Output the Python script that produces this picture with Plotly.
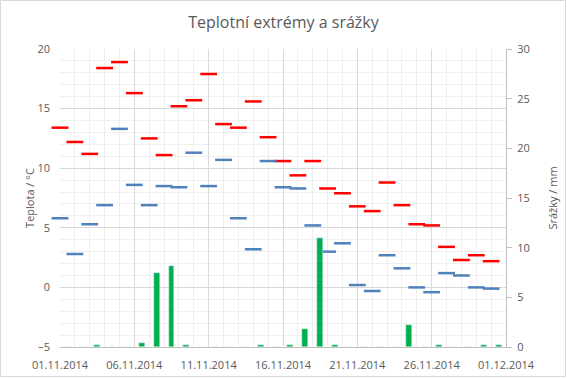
import plotly.graph_objects as go
import pandas as pd

dates = pd.date_range("2014-11-01", periods=30, freq="D")
t_max = [13.4, 12.2, 11.2, 18.4, 18.9, 16.3, 12.5, 11.1, 15.2, 15.7,
         17.9, 13.7, 13.4, 15.6, 12.6, 10.6, 9.4, 10.6, 8.3, 7.9,
         6.8, 6.4, 8.8, 6.9, 5.3, 5.2, 3.4, 2.3, 2.7, 2.2]
t_min = [5.8, 2.8, 5.3, 6.9, 13.3, 8.6, 6.9, 8.5, 8.4, 11.3,
         8.5, 10.7, 5.8, 3.2, 10.6, 8.4, 8.3, 5.2, 3.0, 3.7,
         0.2, -0.3, 2.7, 1.6, 0.0, -0.4, 1.2, 1.0, 0.0, -0.1]
precip = [0, 0, 0.2, 0, 0, 0.4, 7.5, 8.2, 0.2, 0,
          0, 0, 0, 0.2, 0, 0.2, 1.8, 11.0, 0.2, 0,
          0, 0, 0, 2.2, 0, 0.2, 0, 0, 0.2, 0.2]
tick_dates = pd.date_range("2014-11-01", "2014-12-01", freq="5D")
tick_text = [d.strftime("%d.%m.%Y") for d in tick_dates]

DAY = 86400000
grey = "#595959"
font = "Open Sans"
tfs = 11

fig = go.Figure()
fig.add_trace(go.Bar(x=dates, y=precip, yaxis="y2", marker_color="#00b050",
                     width=0.4 * DAY, offset=0.3 * DAY, name="Srážky"))
fig.add_trace(go.Scatter(x=dates, y=t_max, mode="markers", name="Max", cliponaxis=False,
                         marker=dict(symbol="line-ew", size=12,
                                     line=dict(color="#ff0000", width=2.5))))
fig.add_trace(go.Scatter(x=dates, y=t_min, mode="markers", name="Min", cliponaxis=False,
                         marker=dict(symbol="line-ew", size=12,
                                     line=dict(color="#4f81bd", width=2.5))))

L, R, T, B = 60, 61, 49, 31
W, H = 567, 378
pw, ph = W - L - R, H - T - B

fig.update_layout(
    width=W, height=H,
    margin=dict(l=L, r=R, t=T, b=B, autoexpand=False),
    paper_bgcolor="white", plot_bgcolor="white",
    showlegend=False,
    font=dict(family=font, size=tfs, color=grey),
    title=dict(text="Teplotní extrémy a srážky", x=0.5, xanchor="center",
               y=1 - 22 / H, yanchor="middle",
               font=dict(size=16, color=grey, family=font)),
    xaxis=dict(type="date", automargin=False,
               range=[dates[0], pd.Timestamp("2014-12-01")],
               tickvals=tick_dates, ticktext=tick_text,
               showgrid=True, gridcolor="#d9d9d9", gridwidth=1,
               minor=dict(dtick=DAY, tick0="2014-11-01", showgrid=True,
                          gridcolor="#efefef", gridwidth=1),
               showline=True, linecolor="#bfbfbf", linewidth=1,
               ticks="", ticklabelstandoff=8, tickfont=dict(size=tfs, color=grey),
               zeroline=False),
    yaxis=dict(range=[-5, 20], dtick=5, tick0=-5, automargin=False,
               showgrid=True, gridcolor="#d9d9d9",
               minor=dict(dtick=1, showgrid=True, gridcolor="#efefef"),
               zeroline=False, showline=False, ticks="", ticklabelstandoff=9,
               title=dict(text="Teplota / °C", font=dict(size=tfs, color=grey), standoff=0),
               tickfont=dict(size=tfs, color=grey)),
    yaxis2=dict(range=[0, 30], dtick=5, overlaying="y", side="right", automargin=False,
                showgrid=False, zeroline=False,
                showline=True, linecolor="#bfbfbf", linewidth=1,
                ticks="outside", ticklen=5, tickcolor="#bfbfbf", ticklabelstandoff=3,
                title=dict(text="Srážky / mm", font=dict(size=tfs, color=grey), standoff=20),
                tickfont=dict(size=tfs, color=grey)),
    bargap=0,
)

fig.add_shape(type="rect", xref="paper", yref="paper",
              x0=-(L - 0.5) / pw, x1=1 + (R - 1.5) / pw,
              y0=-(B - 1.5) / ph, y1=1 + (T - 0.5) / ph,
              line=dict(color="#d9d9d9", width=1), fillcolor="rgba(0,0,0,0)",
              layer="below")

fig.write_html("out.html", config={"displayModeBar": False},
               post_script="document.body.style.margin='0';document.body.style.padding='0';")
